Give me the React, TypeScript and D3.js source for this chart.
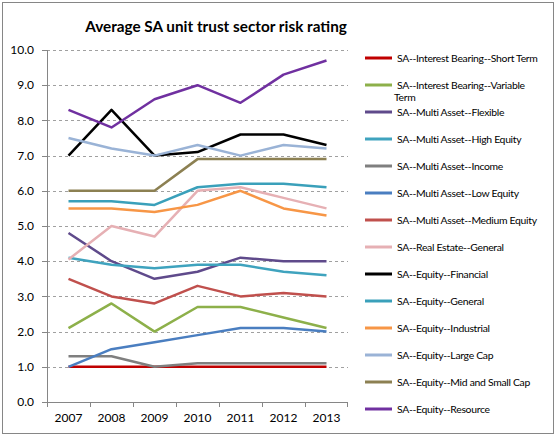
import React from "react";
import * as d3 from "d3";

const years = ["2007", "2008", "2009", "2010", "2011", "2012", "2013"];
const yTicks = [0, 1, 2, 3, 4, 5, 6, 7, 8, 9, 10];

const seriesNames = [
  "SA--Interest Bearing--Short Term",
  "SA--Interest Bearing--Variable Term",
  "SA--Multi Asset--Flexible",
  "SA--Multi Asset--High Equity",
  "SA--Multi Asset--Income",
  "SA--Multi Asset--Low Equity",
  "SA--Multi Asset--Medium Equity",
  "SA--Real Estate--General",
  "SA--Equity--Financial",
  "SA--Equity--General",
  "SA--Equity--Industrial",
  "SA--Equity--Large Cap",
  "SA--Equity--Mid and Small Cap",
  "SA--Equity--Resource",
];

const shortTerm = [1.0, 1.0, 1.0, 1.0, 1.0, 1.0, 1.0];
const variableTerm = [2.1, 2.8, 2.0, 2.7, 2.7, 2.4, 2.1];
const flexible = [4.8, 4.0, 3.5, 3.7, 4.1, 4.0, 4.0];
const highEquity = [4.1, 3.9, 3.8, 3.9, 3.9, 3.7, 3.6];
const income = [1.3, 1.3, 1.0, 1.1, 1.1, 1.1, 1.1];
const lowEquity = [1.0, 1.5, 1.7, 1.9, 2.1, 2.1, 2.0];
const mediumEquity = [3.5, 3.0, 2.8, 3.3, 3.0, 3.1, 3.0];
const realEstate = [4.05, 5.0, 4.7, 6.0, 6.1, 5.8, 5.5];
const financial = [7.0, 8.3, 7.0, 7.1, 7.6, 7.6, 7.3];
const equityGeneral = [5.7, 5.7, 5.6, 6.1, 6.2, 6.2, 6.1];
const industrial = [5.5, 5.5, 5.4, 5.6, 6.0, 5.5, 5.3];
const largeCap = [7.5, 7.2, 7.0, 7.3, 7.0, 7.3, 7.2];
const midSmallCap = [6.0, 6.0, 6.0, 6.9, 6.9, 6.9, 6.9];
const resource = [8.3, 7.8, 8.6, 9.0, 8.5, 9.3, 9.7];

const seriesValues = [
  shortTerm, variableTerm, flexible, highEquity, income, lowEquity, mediumEquity,
  realEstate, financial, equityGeneral, industrial, largeCap, midSmallCap, resource,
];

const seriesColors = [
  "#C00000", "#8DB04A", "#5F4A8B", "#3FA3BE", "#7F7F7F", "#4A7EC0", "#C0504D",
  "#E6B0B4", "#000000", "#3AA0BA", "#F79646", "#9AB3D6", "#8C8052", "#7030A0",
];

const FONT = "Lato, 'Open Sans', sans-serif";

export default function App() {
  const W = 557, H = 439;
  const left = 47, right = 348, top = 50, bottom = 402;
  const x = d3.scaleBand<string>().domain(years).range([left, right]).padding(0);
  const y = d3.scaleLinear().domain([0, 10]).range([bottom, top]);
  const line = d3
    .line<number>()
    .x((_, i) => (x(years[i]) as number) + x.bandwidth() / 2)
    .y((d) => y(d));

  const legendX = 365;
  const legendY0 = 58;
  const legendStep = 27;
  const LFS = 10.4;
  const LS = -0.3;

  return (
    <div style={{ position: "absolute", left: 0, top: 0 }}>
      <svg width={W} height={H} style={{ display: "block", background: "#fff" }}>
        <rect x={2.5} y={2.5} width={551} height={431} fill="#fff" stroke="#868686" strokeWidth={1} />
        <text x={216} y={32} textAnchor="middle" fontFamily={FONT} fontWeight="bold" fontSize={15.3} fill="#000">
          Average SA unit trust sector risk rating
        </text>
        {yTicks.slice(1).map((t) => (
          <line key={"g" + t} x1={left} x2={right} y1={Math.round(y(t)) + 0.5} y2={Math.round(y(t)) + 0.5}
            stroke="#A0A0A0" strokeWidth={1} strokeDasharray="3,3" />
        ))}
        <line x1={left + 0.5} x2={left + 0.5} y1={top} y2={bottom} stroke="#868686" />
        <line x1={left} x2={right} y1={bottom + 0.5} y2={bottom + 0.5} stroke="#868686" />
        {yTicks.map((t) => (
          <g key={"yt" + t}>
            <line x1={left - 5} x2={left} y1={Math.round(y(t)) + 0.5} y2={Math.round(y(t)) + 0.5} stroke="#868686" />
            <text x={34} y={y(t) + 4.2} textAnchor="end" fontFamily={FONT} fontSize={12} fill="#000">
              {t.toFixed(1)}
            </text>
          </g>
        ))}
        {years.map((yr) => (
          <line key={"xt" + yr} x1={Math.round((x(yr) as number)) + 0.5} x2={Math.round((x(yr) as number)) + 0.5}
            y1={bottom} y2={bottom + 5} stroke="#868686" />
        ))}
        <line x1={right - 0.5} x2={right - 0.5} y1={bottom} y2={bottom + 5} stroke="#868686" />
        {years.map((yr) => (
          <text key={"xl" + yr} x={(x(yr) as number) + x.bandwidth() / 2} y={422} textAnchor="middle"
            fontFamily={FONT} fontSize={12} fill="#000">
            {yr}
          </text>
        ))}
        {seriesValues.map((vals, i) => (
          <path key={"s" + i} d={line(vals) as string} fill="none" stroke={seriesColors[i]} strokeWidth={2.5}
            strokeLinejoin="round" />
        ))}
        {seriesNames.map((name, i) => {
          const ly = legendY0 + i * legendStep;
          const isWrapped = i === 1;
          return (
            <g key={"lg" + i}>
              <line x1={legendX} x2={legendX + 27} y1={ly} y2={ly} stroke={seriesColors[i]} strokeWidth={3} />
              {isWrapped ? (
                <text fontFamily={FONT} fontSize={LFS} letterSpacing={LS} fill="#000">
                  <tspan x={397} y={ly + 3.8}>SA--Interest Bearing--Variable</tspan>
                  <tspan x={394} y={ly + 16.2}>Term</tspan>
                </text>
              ) : (
                <text x={397} y={ly + 3.8} fontFamily={FONT} fontSize={LFS} letterSpacing={LS} fill="#000">
                  {name}
                </text>
              )}
            </g>
          );
        })}
      </svg>
    </div>
  );
}
